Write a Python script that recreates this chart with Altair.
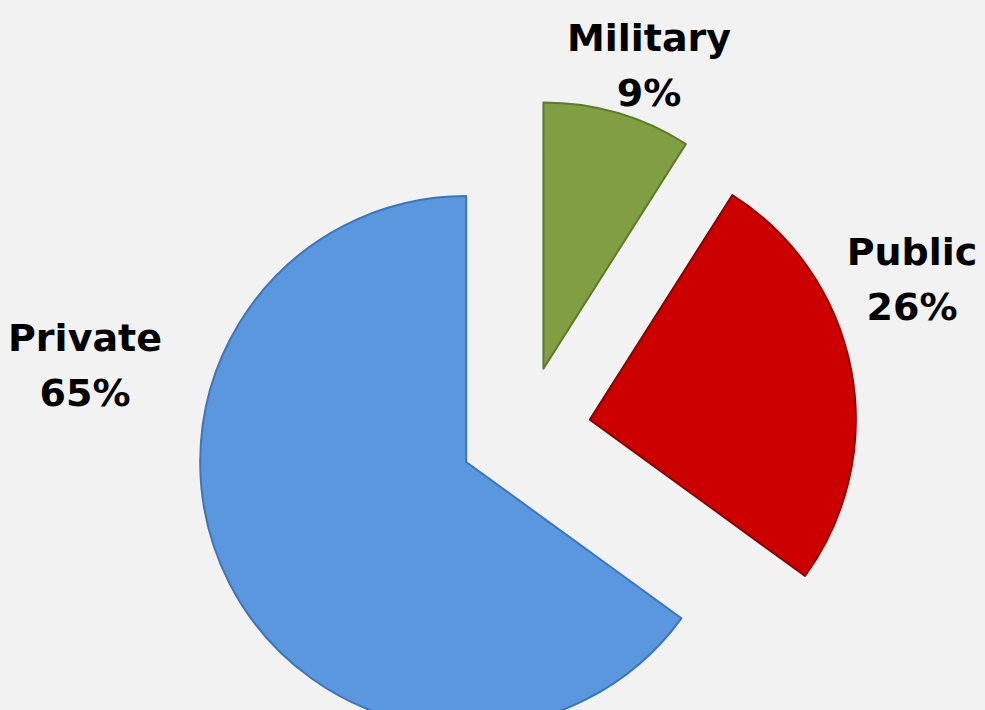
import altair as alt
import pandas as pd

categories = ["Military", "Public", "Private"]
shares = [9, 26, 65]
fill_colors = ["#7f9f42", "#cc0000", "#5b97de"]
edge_colors = ["#5e7a2c", "#8f0000", "#3f74b8"]

df = pd.DataFrame({"category": categories, "value": shares})

CX, CY = 525, 432   # pie centre (pixels)
R = 266             # pie radius
E = 66              # explode distance
TAU = "6.283185307179586"

base = alt.Chart(df)

arcs = base.transform_joinaggregate(
    total="sum(value)"
).transform_window(
    cum="sum(value)", frame=[None, 0]
).transform_calculate(
    t1=f"datum.cum / datum.total * {TAU}",
    t0=f"(datum.cum - datum.value) / datum.total * {TAU}",
).transform_calculate(
    mid="(datum.t0 + datum.t1) / 2"
).transform_calculate(
    px=f"{CX} + {E} * sin(datum.mid)",
    py=f"{CY} - {E} * cos(datum.mid)",
).mark_arc(radius=R, strokeWidth=2, strokeJoin="round").encode(
    theta=alt.Theta("t0:Q", scale=None, stack=None),
    theta2="t1:Q",
    x=alt.X("px:Q", scale=None),
    y=alt.Y("py:Q", scale=None),
    color=alt.Color("category:N", scale=alt.Scale(domain=categories, range=fill_colors), legend=None),
    stroke=alt.Stroke("category:N", scale=alt.Scale(domain=categories, range=edge_colors), legend=None),
)

label_pos = {"Military": (649, 51), "Public": (912, 265), "Private": (85, 351)}

texts = []
for cat in categories:
    lx, ly = label_pos[cat]
    t = base.transform_filter(
        alt.datum.category == cat
    ).transform_calculate(
        label="datum.category + '\\n' + datum.value + '%'"
    ).mark_text(
        font="DejaVu Sans", fontWeight="bold", fontSize=38, color="#000000",
        align="center", baseline="alphabetic", lineBreak="\n", lineHeight=55,
    ).encode(
        x=alt.value(lx), y=alt.value(ly), text="label:N"
    )
    texts.append(t)

chart = alt.layer(arcs, *texts).properties(
    width=985, height=710, padding=0, autosize="none", background="#f2f2f2"
).configure_view(stroke=None)

chart.save("out.html", embed_options={"renderer": "svg", "actions": False})
